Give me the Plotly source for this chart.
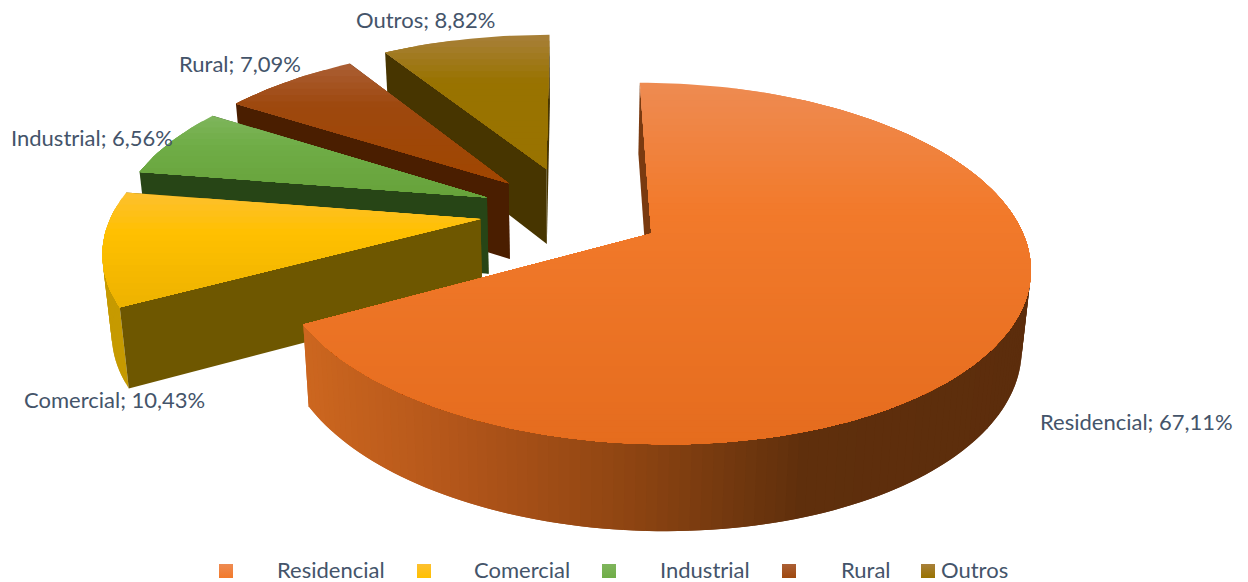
import math
import plotly.graph_objects as go

# data
categorias = ["Residencial", "Comercial", "Industrial", "Rural", "Outros"]
valores = [67.11, 10.43, 6.56, 7.09, 8.82]

# colours: top surface (light, base, low), radial face, outer wall
cor_topo = [("#EE8B52", "#F27A2B", "#E56C1E"), ("#FDC030", "#FFC000", "#EDB200"),
            ("#7FB55C", "#70AD47", "#66A23A"), ("#AB5F35", "#9E480E", "#A04600"),
            ("#A8803A", "#997300", "#997300")]
cor_face = ["#7A3A10", "#6E5700", "#274516", "#4A1E00", "#473500"]
cor_parede = [None, "#C69A00", "#274516", "#4A1E00", "#473500"]
cor_parede_res = [(303, "#CC661F"), (450, "#B3561A"), (620, "#8F4512"), (800, "#5F2F0C"), (1030, "#5C2D0C")]

# label / legend layout, in page pixels
rotulo_x = [1040, 24, 11, 179, 356]
rotulo_y = [424, 402, 140, 66, 22]
legenda_marca_x = [226, 424, 609, 789, 928]
legenda_texto_x = [277, 474, 660, 841, 941]
legenda_y = 571
legenda_texto_y = 572

FONTE = "Lato, Carlito, Calibri, sans-serif"
COR_TEXTO = "#44546A"

# projection of the exploded pie
CX, CY = 570, 212
B, A, K = 368, 168.8, 0.162
D, E = 77, 0.02
PULL = 0.245
# small per-slice corrections to the fitted shape
RAIO_X = [0.99, 1, 1, 1, 1]
DESVIO_X = [0.006, 0, 0, 0, 0]
DESVIO_Y = [0, 0, 0, 0, 0.03]


def proj(x, y, z=0.0):
    s = 1 / (1 + K * y)
    return CX + B * x * s * (1 - E * z), CY - A * y * s + D * s ** 0.6 * z


def hex_rgb(c):
    return tuple(int(c[i:i + 2], 16) for i in (1, 3, 5))


def mix(c1, c2, t):
    a, b = hex_rgb(c1), hex_rgb(c2)
    return "rgb(%d,%d,%d)" % tuple(round(a[i] + (b[i] - a[i]) * t) for i in range(3))


def clip(pts, lim):
    # keep the part of a polygon below a horizontal line
    out = []
    for i, p in enumerate(pts):
        q = pts[(i + 1) % len(pts)]
        pin = p[1] >= lim
        qin = q[1] >= lim
        if pin:
            out.append(p)
        if pin != qin:
            t = (lim - p[1]) / (q[1] - p[1])
            out.append((p[0] + (q[0] - p[0]) * t, lim))
    return out


fig = go.Figure()


def poly(pts, cor):
    xs = [p[0] for p in pts] + [pts[0][0]]
    ys = [p[1] for p in pts] + [pts[0][1]]
    fig.add_trace(go.Scatter(x=xs, y=ys, mode="lines", fill="toself", fillcolor=cor,
                             line=dict(width=0), hoverinfo="skip", showlegend=False))


def cor_res(x):
    for (x0, c0), (x1, c1) in zip(cor_parede_res, cor_parede_res[1:]):
        if x0 <= x <= x1:
            return mix(c0, c1, (x - x0) / (x1 - x0))
    return cor_parede_res[0][1] if x < cor_parede_res[0][0] else cor_parede_res[-1][1]


# slice angles from the values, clockwise from the top
total = sum(valores)
fatias = []
ang = 0.0
for v in valores:
    fim = ang + v / total * 2 * math.pi
    fatias.append((ang, fim))
    ang = fim

# painter's order: back slices first, Residencial last
for i in [4, 3, 2, 1, 0]:
    a0, a1 = fatias[i]
    meio = (a0 + a1) / 2
    ox = PULL * math.sin(meio) + DESVIO_X[i]
    oy = PULL * math.cos(meio) + DESVIO_Y[i]
    n = max(8, int((a1 - a0) * 40))
    angs = [a0 + (a1 - a0) * j / n for j in range(n + 1)]
    arco = [(ox + RAIO_X[i] * math.sin(t), oy + math.cos(t)) for t in angs]

    # far radial face, hidden on the big slice
    if i != 0:
        p = arco[-1]
        poly([proj(ox, oy), proj(*p), proj(*p, 1), proj(ox, oy, 1)], cor_face[i])

    # outer wall, in overlapping strips, front half only
    for j in range(n):
        if math.cos(angs[j]) > 0.05 and math.cos(angs[j + 1]) > 0.05:
            continue
        p, q = arco[j], arco[min(j + 2, n)]
        pts = [proj(*p), proj(*q), proj(*q, 1), proj(*p, 1)]
        if i == 0:
            poly(pts, cor_res((pts[0][0] + pts[1][0]) / 2))
        else:
            poly(pts, cor_parede[i])

    # near radial face
    p = arco[0]
    poly([proj(ox, oy), proj(*p), proj(*p, 1), proj(ox, oy, 1)], cor_face[i])

    # top surface with a vertical gradient, in overlapping bands
    topo = [proj(ox, oy)] + [proj(*p) for p in arco]
    ymin = min(p[1] for p in topo)
    ymax = max(p[1] for p in topo)
    nb = max(14, int((ymax - ymin) / 6))
    luz, base, baixo = cor_topo[i]
    for b in range(nb):
        y0 = ymin + (ymax - ymin) * b / nb
        t = (b + 0.5) / nb
        cor = mix(luz, base, t / 0.35) if t < 0.35 else mix(base, baixo, (t - 0.35) / 0.65)
        banda = clip(topo, y0)
        if len(banda) >= 3:
            poly(banda, cor)

# data labels
rotulos = [f"{n}; {v:.2f}".replace(".", ",") + "%" for n, v in zip(categorias, valores)]
fig.add_trace(go.Scatter(x=rotulo_x, y=rotulo_y, mode="text", text=rotulos, textposition="middle right",
                         textfont=dict(family=FONTE, size=22, color=COR_TEXTO),
                         hoverinfo="skip", showlegend=False))

# legend row
for i, nome in enumerate(categorias):
    luz, base, _ = cor_topo[i]
    fig.add_trace(go.Scatter(x=[legenda_marca_x[i]], y=[legenda_y], mode="markers", name=nome,
                             marker=dict(symbol="square", size=14, color=luz,
                                         gradient=dict(type="vertical", color=base)),
                             hoverinfo="skip", showlegend=False))
    fig.add_trace(go.Scatter(x=[legenda_texto_x[i]], y=[legenda_texto_y], mode="text", text=[nome],
                             textposition="middle right",
                             textfont=dict(family=FONTE, size=22, color=COR_TEXTO),
                             hoverinfo="skip", showlegend=False))

fig.update_layout(
    width=1248, height=582, margin=dict(l=0, r=0, t=0, b=0),
    paper_bgcolor="white", plot_bgcolor="white",
    xaxis=dict(range=[0, 1248], visible=False, fixedrange=True),
    yaxis=dict(range=[582, 0], visible=False, fixedrange=True),
)
fig.write_html("out.html", config={"displayModeBar": False},
               post_script="document.body.style.margin='0';")
